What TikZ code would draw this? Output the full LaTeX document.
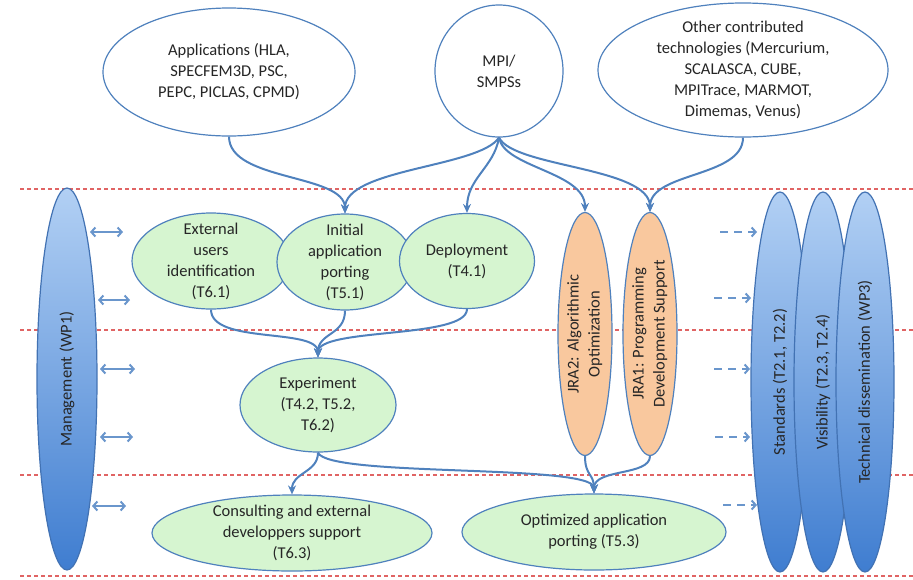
\documentclass[tikz,border=0pt]{standalone}
\usepackage{fontspec}
\setmainfont{Carlito}
\usepackage{tikz}
\usetikzlibrary{arrows.meta, shapes.geometric}
\definecolor{linkblue}{HTML}{4F81BD}
\definecolor{arrowblue}{HTML}{6A96CC}
\definecolor{sepred}{HTML}{E06464}
\definecolor{taskgreen}{HTML}{D6F5D0}
\definecolor{jraorange}{HTML}{F9C89E}
\definecolor{wplight}{HTML}{B2D0F4}
\definecolor{wpdark}{HTML}{3F7DD0}
\definecolor{wpedge}{HTML}{4272B3}

\begin{document}
\begin{tikzpicture}[x=1pt, y=-1pt,
        every node/.style={font=\fontsize{16.5}{21}\selectfont, text=black!85},
        ell/.style={ellipse, draw=linkblue, line width=1.2pt, inner sep=-8pt, align=center},
        srcell/.style={ell, fill=white},
        taskell/.style={ell, fill=taskgreen},
        jraell/.style={ell, fill=jraorange},
        wpell/.style={ell, draw=wpedge, top color=wplight, bottom color=wpdark},
        conn/.style={-{Stealth[length=9pt, width=8pt]}, line width=2pt, linkblue},
        both/.style={{Straight Barb[length=4pt, width=9pt]}-{Straight Barb[length=4pt, width=9pt]},
                     line width=2pt, arrowblue},
        feed/.style={-{Straight Barb[length=4pt, width=9pt]}, line width=2pt, arrowblue,
                     dash pattern=on 8pt off 6pt},
        sep/.style={sepred, line width=1.2pt, dash pattern=on 4pt off 3pt}
      ]
        \useasboundingbox (0,0) rectangle (913,579);

        \foreach \y in {189,330,475,576}
          \draw[sep] (20,\y) -- (913,\y);

        % work packages
        \node[wpell, minimum width=60, minimum height=382] (mgmt) at (67,379)
          {\rotatebox{90}{Management (WP1)}};
        \node[wpell, minimum width=58, minimum height=380] (stds) at (780,382)
          {\rotatebox{90}{Standards (T2.1, T2.2)}};
        \node[wpell, minimum width=58, minimum height=380] (visib) at (823,382)
          {\rotatebox{90}{Visibility (T2.3, T2.4)}};
        \node[wpell, minimum width=58, minimum height=380] (techdis) at (865,382)
          {\rotatebox{90}{Technical dissemination (WP3)}};

        % joint research
        \node[jraell, minimum width=54, minimum height=243] (jra2) at (585,334)
          {\rotatebox{90}{\begin{tabular}{@{}c@{}}JRA2: Algorithmic\\Optimization\end{tabular}}};
        \node[jraell, minimum width=54, minimum height=243] (jra1) at (650,334)
          {\rotatebox{90}{\begin{tabular}{@{}c@{}}JRA1: Programming\\Development Support\end{tabular}}};

        % sources
        \node[srcell, minimum width=252, minimum height=128] (app) at (229,72)
          {Applications (HLA,\\SPECFEM3D, PSC,\\PEPC, PICLAS, CPMD)};
        \node[srcell, minimum width=128, minimum height=132] (mpi) at (499,71)
          {MPI/\\SMPSs};
        \node[srcell, minimum width=290, minimum height=134] (other) at (743,70)
          {Other contributed\\technologies (Mercurium,\\SCALASCA, CUBE,\\MPITrace, MARMOT,\\Dimemas, Venus)};

        % tasks
        \node[taskell, minimum width=158, minimum height=96] (extusr) at (211,261)
          {External\\users\\identification\\(T6.1)};
        \node[taskell, minimum width=136, minimum height=96] (initport) at (345,262)
          {Initial\\application\\porting\\(T5.1)};
        \node[taskell, minimum width=135, minimum height=95] (deploy) at (467,261)
          {Deployment\\(T4.1)};
        \node[taskell, minimum width=156, minimum height=94] (expmt) at (318,405)
          {Experiment\\(T4.2, T5.2,\\T6.2)};
        \node[taskell, minimum width=280, minimum height=76] (consult) at (292,533)
          {Consulting and external\\developpers support\\(T6.3)};
        \node[taskell, minimum width=264, minimum height=76] (optport) at (594,532)
          {Optimized application\\porting (T5.3)};

        \draw[conn] (app.south) .. controls +(0,45) and +(0,-40) .. (initport.north);
        \draw[conn] (mpi.south) .. controls +(-20,30) and +(0,-45) .. (initport.north);
        \draw[conn] (mpi.south) .. controls +(-5,30) and +(0,-35) .. (deploy.north);
        \draw[conn] (mpi.south) .. controls +(5,30) and +(0,-40) .. (jra2.north);
        \draw[conn] (mpi.south) .. controls +(15,30) and +(0,-45) .. (jra1.north);
        \draw[conn] (other.south) .. controls +(0,40) and +(0,-40) .. (jra1.north);
        \draw[conn] (extusr.south) .. controls +(0,35) and +(0,-30) .. (expmt.north);
        \draw[conn] (initport.south) .. controls +(0,25) and +(0,-25) .. (expmt.north);
        \draw[conn] (deploy.south) .. controls +(0,30) and +(0,-30) .. (expmt.north);
        \draw[conn] (expmt.south) .. controls +(0,20) and +(0,-22) .. (consult.north);
        \draw[conn] (expmt.south) .. controls +(10,25) and +(0,-30) .. (optport.north);
        \draw[conn] (jra2.south) .. controls +(0,20) and +(0,-20) .. (optport.north);
        \draw[conn] (jra1.south) .. controls +(0,20) and +(0,-25) .. (optport.north);

        \foreach \y/\xa/\xb [count=\i] in {232/90/123, 300/98/130, 369/100/135, 437/100/133, 506/92/126} {
          \coordinate (mgl\i) at (\xa,\y);
          \coordinate (mgr\i) at (\xb,\y);
          \draw[both] (mgl\i) -- (mgr\i);
        }
        \foreach \y/\xa/\xb [count=\i] in {232/720/757, 298/714/751, 369/714/750, 437/715/750, 505/723/757} {
          \coordinate (fdl\i) at (\xa,\y);
          \coordinate (fdr\i) at (\xb,\y);
          \draw[feed] (fdl\i) -- (fdr\i);
        }
      \end{tikzpicture}
\end{document}
